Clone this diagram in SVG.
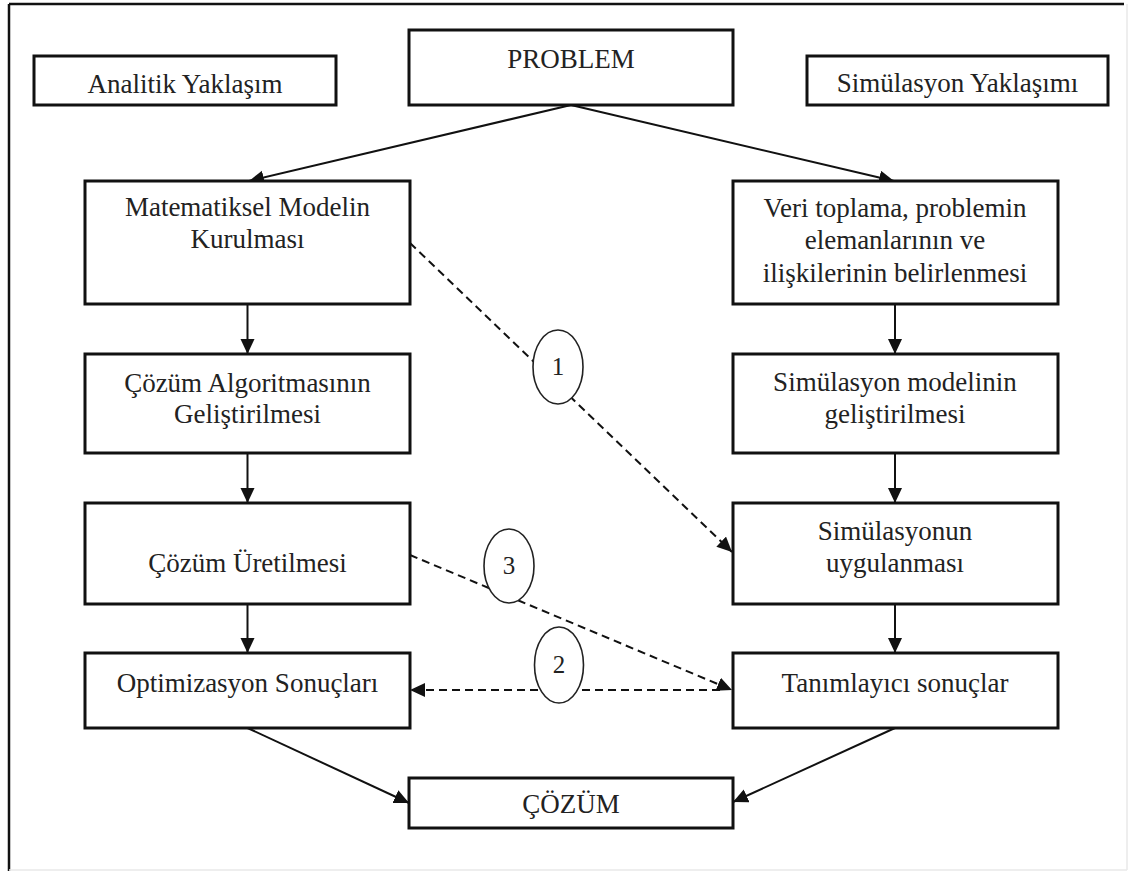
<svg xmlns="http://www.w3.org/2000/svg" width="1131" height="876" viewBox="0 0 1131 876">
  <style>
    .box { fill: #fff; stroke: #111; stroke-width: 3; }
    .lbl { font-family: "Liberation Serif", "Times New Roman", serif; font-size: 27px; fill: #222; text-anchor: middle; }
    .num { font-family: "Liberation Serif", "Times New Roman", serif; font-size: 25px; fill: #222; text-anchor: middle; }
    .edge { stroke: #111; stroke-width: 2; fill: none; }
    .dash { stroke: #111; stroke-width: 2; fill: none; stroke-dasharray: 8 5; }
    .tag { fill: #fff; stroke: #222; stroke-width: 1.6; }
  </style>
  <defs>
    <marker id="arrow" markerUnits="userSpaceOnUse" markerWidth="16" markerHeight="15" refX="15" refY="7" orient="auto">
      <path d="M0,0 L15,7 L0,14 z" fill="#111"/>
    </marker>
  </defs>

  <rect width="1131" height="876" fill="#fff"/>

  <!-- outer frame -->
  <g id="frame">
    <line x1="9" y1="4" x2="1124" y2="4" stroke="#111" stroke-width="2.5"/>
    <line x1="9" y1="4" x2="9" y2="871" stroke="#111" stroke-width="2.5"/>
    <line x1="9" y1="870" x2="1127" y2="870" stroke="#e8e8e8" stroke-width="1.5"/>
    <line x1="1127" y1="4" x2="1127" y2="870" stroke="#e8e8e8" stroke-width="1.5"/>
  </g>

  <!-- connectors -->
  <g id="connectors">
    <line class="edge" x1="571" y1="105" x2="249" y2="181" marker-end="url(#arrow)"/>
    <line class="edge" x1="571" y1="105" x2="894" y2="181" marker-end="url(#arrow)"/>

    <line class="edge" x1="247.5" y1="304" x2="247.5" y2="354" marker-end="url(#arrow)"/>
    <line class="edge" x1="247.5" y1="453" x2="247.5" y2="503" marker-end="url(#arrow)"/>
    <line class="edge" x1="247.5" y1="604" x2="247.5" y2="653" marker-end="url(#arrow)"/>

    <line class="edge" x1="895" y1="304" x2="895" y2="354" marker-end="url(#arrow)"/>
    <line class="edge" x1="895" y1="453" x2="895" y2="503" marker-end="url(#arrow)"/>
    <line class="edge" x1="895" y1="604" x2="895" y2="653" marker-end="url(#arrow)"/>

    <line class="edge" x1="247.5" y1="728" x2="409" y2="803" marker-end="url(#arrow)"/>
    <line class="edge" x1="895" y1="728" x2="733" y2="802" marker-end="url(#arrow)"/>

    <line class="dash" x1="410" y1="243" x2="732" y2="552" marker-end="url(#arrow)"/>
    <line class="dash" x1="410" y1="555" x2="732" y2="690" marker-end="url(#arrow)"/>
    <line class="dash" x1="720" y1="690" x2="410" y2="690" marker-end="url(#arrow)"/>

    <g id="tag1">
      <ellipse class="tag" cx="558" cy="367" rx="25" ry="37"/>
      <text class="num" x="558" y="375">1</text>
    </g>
    <g id="tag3">
      <ellipse class="tag" cx="509" cy="566" rx="25" ry="37"/>
      <text class="num" x="509" y="574">3</text>
    </g>
    <g id="tag2">
      <ellipse class="tag" cx="559" cy="665" rx="24.5" ry="38"/>
      <text class="num" x="559" y="673">2</text>
    </g>
  </g>

  <!-- nodes -->
  <g id="analitik">
    <rect class="box" x="34" y="56" width="302" height="49"/>
    <text class="lbl" x="185" y="93">Analitik Yaklaşım</text>
  </g>
  <g id="problem">
    <rect class="box" x="409" y="30" width="324" height="75"/>
    <text class="lbl" x="571" y="68">PROBLEM</text>
  </g>
  <g id="simulasyon-yaklasimi">
    <rect class="box" x="807" y="56" width="301" height="49"/>
    <text class="lbl" x="957.5" y="92">Simülasyon Yaklaşımı</text>
  </g>

  <g id="matematiksel-model">
    <rect class="box" x="85" y="181" width="325" height="123"/>
    <text class="lbl" x="247.5" y="216">Matematiksel Modelin</text>
    <text class="lbl" x="247.5" y="248">Kurulması</text>
  </g>
  <g id="cozum-algoritmasi">
    <rect class="box" x="85" y="354" width="325" height="99"/>
    <text class="lbl" x="247.5" y="392">Çözüm Algoritmasının</text>
    <text class="lbl" x="247.5" y="423">Geliştirilmesi</text>
  </g>
  <g id="cozum-uretilmesi">
    <rect class="box" x="85" y="503" width="325" height="101"/>
    <text class="lbl" x="247.5" y="572">Çözüm Üretilmesi</text>
  </g>
  <g id="optimizasyon">
    <rect class="box" x="85" y="653" width="325" height="75"/>
    <text class="lbl" x="247.5" y="692">Optimizasyon Sonuçları</text>
  </g>

  <g id="veri-toplama">
    <rect class="box" x="733" y="181" width="325" height="123"/>
    <text class="lbl" x="895" y="217">Veri toplama, problemin</text>
    <text class="lbl" x="895" y="249">elemanlarının ve</text>
    <text class="lbl" x="895" y="282">ilişkilerinin belirlenmesi</text>
  </g>
  <g id="simulasyon-modeli">
    <rect class="box" x="733" y="354" width="325" height="99"/>
    <text class="lbl" x="895" y="391">Simülasyon modelinin</text>
    <text class="lbl" x="895" y="423">geliştirilmesi</text>
  </g>
  <g id="simulasyon-uygulama">
    <rect class="box" x="733" y="503" width="325" height="101"/>
    <text class="lbl" x="895" y="540">Simülasyonun</text>
    <text class="lbl" x="895" y="572">uygulanması</text>
  </g>
  <g id="tanimlayici">
    <rect class="box" x="733" y="653" width="325" height="75"/>
    <text class="lbl" x="895" y="692">Tanımlayıcı sonuçlar</text>
  </g>

  <g id="cozum">
    <rect class="box" x="409" y="778" width="324" height="50"/>
    <text class="lbl" x="571" y="813">ÇÖZÜM</text>
  </g>
</svg>
